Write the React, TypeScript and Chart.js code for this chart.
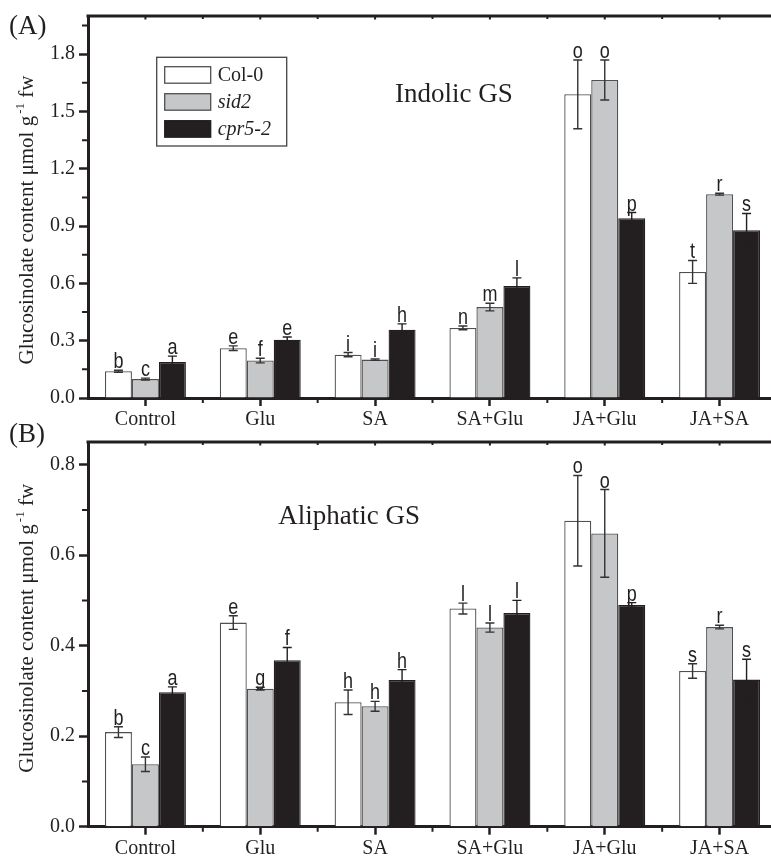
import { useEffect, useRef } from 'react';
import { Chart, registerables } from 'chart.js';

Chart.register(...registerables);

// ---------------- data ----------------
const categories = ['Control', 'Glu', 'SA', 'SA+Glu', 'JA+Glu', 'JA+SA'];
const seriesNames = ['Col-0', 'sid2', 'cpr5-2'];

// Panel A: Indolic GS
const indolicCol0 = [0.140, 0.261, 0.227, 0.367, 1.590, 0.660];
const indolicCol0Err = [0.005, 0.012, 0.011, 0.010, 0.180, 0.060];
const indolicSid2 = [0.099, 0.196, 0.201, 0.476, 1.665, 1.067];
const indolicSid2Err = [0.005, 0.012, 0.004, 0.020, 0.105, 0.005];
const indolicCpr5 = [0.189, 0.305, 0.357, 0.586, 0.941, 0.878];
const indolicCpr5Err = [0.030, 0.014, 0.031, 0.043, 0.030, 0.088];
const indolicCol0Letters = ['b', 'e', 'i', 'n', 'o', 't'];
const indolicSid2Letters = ['c', 'f', 'i', 'm', 'o', 'r'];
const indolicCpr5Letters = ['a', 'e', 'h', 'l', 'p', 's'];
const indolicTicks = [0, 0.3, 0.6, 0.9, 1.2, 1.5, 1.8];

// Panel B: Aliphatic GS
const aliphaticCol0 = [0.209, 0.451, 0.275, 0.482, 0.676, 0.344];
const aliphaticCol0Err = [0.012, 0.015, 0.027, 0.012, 0.100, 0.016];
const aliphaticSid2 = [0.138, 0.305, 0.266, 0.440, 0.648, 0.441];
const aliphaticSid2Err = [0.016, 0.003, 0.011, 0.010, 0.097, 0.004];
const aliphaticCpr5 = [0.297, 0.368, 0.324, 0.472, 0.490, 0.325];
const aliphaticCpr5Err = [0.012, 0.028, 0.023, 0.028, 0.005, 0.045];
const aliphaticCol0Letters = ['b', 'e', 'h', 'l', 'o', 's'];
const aliphaticSid2Letters = ['c', 'g', 'h', 'l', 'o', 'r'];
const aliphaticCpr5Letters = ['a', 'f', 'h', 'l', 'p', 's'];
const aliphaticTicks = [0, 0.2, 0.4, 0.6, 0.8];

// ---------------- styles ----------------
const SERIF = '"Liberation Serif", "Times New Roman", Times, serif';
const SANS = '"Liberation Sans", Arial, Helvetica, sans-serif';
const INK = '#231f20';
const seriesFill = ['#ffffff', '#c6c7c9', '#231f20'];
const seriesBorder = ['#505050', '#505050', '#231f20'];
const errColor = ['#333333', '#333333', '#231f20'];
const Y_TITLE_MAIN = 'Glucosinolate content \u03bcmol g';
const Y_TITLE_SUP = '-1';
const Y_TITLE_TAIL = ' fw';

const decorPlugin = {
  id: 'decor',
  afterDatasetsDraw(chart: any, _args: any, opts: any) {
    const ctx = chart.ctx;
    const ys = chart.scales.y;
    ctx.save();
    chart.data.datasets.forEach((ds: any, i: number) => {
      const meta = chart.getDatasetMeta(i);
      meta.data.forEach((bar: any, j: number) => {
        const v = ds.data[j];
        const e = opts.errors[i][j];
        const x = bar.x;
        const yt = ys.getPixelForValue(v + e);
        const yb = ys.getPixelForValue(Math.max(0, v - e));
        ctx.strokeStyle = errColor[i];
        ctx.lineWidth = 1.4;
        ctx.beginPath();
        ctx.moveTo(x, yt);
        ctx.lineTo(x, yb);
        ctx.moveTo(x - 4.5, yt);
        ctx.lineTo(x + 4.5, yt);
        ctx.moveTo(x - 4.5, yb);
        ctx.lineTo(x + 4.5, yb);
        ctx.stroke();
        // letter
        ctx.save();
        ctx.fillStyle = INK;
        ctx.font = `18px ${SANS}`;
        ctx.textAlign = 'center';
        ctx.textBaseline = 'alphabetic';
        ctx.translate(x, yt - 2);
        ctx.scale(1, 1.2);
        ctx.fillText(opts.letters[i][j], 0, 0);
        ctx.restore();
      });
    });
    ctx.restore();
  },
  afterDraw(chart: any, _args: any, opts: any) {
    const ctx = chart.ctx;
    const { left, right, top, bottom } = chart.chartArea;
    const ys = chart.scales.y;
    const xs = chart.scales.x;
    ctx.save();
    ctx.strokeStyle = INK;
    // top frame
    ctx.lineWidth = 3;
    ctx.beginPath();
    ctx.moveTo(left - 1.5, top);
    ctx.lineTo(right + 1.5, top);
    ctx.moveTo(right, top);
    ctx.lineTo(right, bottom);
    ctx.stroke();
    // y minor ticks
    ctx.lineWidth = 2;
    ctx.beginPath();
    for (let k = 0; k < opts.yMinor.length; k++) {
      const y = ys.getPixelForValue(opts.yMinor[k]);
      ctx.moveTo(left - 6, y);
      ctx.lineTo(left, y);
    }
    ctx.stroke();
    // x minor ticks and top inward ticks
    ctx.lineWidth = 2;
    ctx.beginPath();
    const n = categories.length;
    for (let j = 0; j < n; j++) {
      const xc = xs.getPixelForValue(j);
      const xm = (xs.getPixelForValue(j) + xs.getPixelForValue(j + 1)) / 2;
      ctx.moveTo(xm, bottom);
      ctx.lineTo(xm, bottom + 5);
      ctx.moveTo(xc, top);
      ctx.lineTo(xc, top + 3.5);
      ctx.moveTo(xm, top);
      ctx.lineTo(xm, top + 3);
    }
    ctx.stroke();

    ctx.fillStyle = INK;
    // y axis title
    ctx.save();
    const cy = (top + bottom) / 2 + opts.yTitleOffset;
    ctx.translate(33, cy);
    ctx.rotate(-Math.PI / 2);
    ctx.textAlign = 'left';
    ctx.textBaseline = 'alphabetic';
    ctx.font = `21px ${SERIF}`;
    const w1 = ctx.measureText(Y_TITLE_MAIN).width;
    const w3 = ctx.measureText(Y_TITLE_TAIL).width;
    ctx.font = `13px ${SERIF}`;
    const w2 = ctx.measureText(Y_TITLE_SUP).width;
    const total = w1 + 2 + w2 + w3;
    let u = -total / 2;
    ctx.font = `21px ${SERIF}`;
    ctx.fillText(Y_TITLE_MAIN, u, 0);
    u += w1 + 2;
    ctx.font = `13px ${SERIF}`;
    ctx.fillText(Y_TITLE_SUP, u, -9);
    u += w2;
    ctx.font = `21px ${SERIF}`;
    ctx.fillText(Y_TITLE_TAIL, u, 0);
    ctx.restore();

    // inner title
    ctx.font = `27px ${SERIF}`;
    ctx.textAlign = 'left';
    ctx.textBaseline = 'alphabetic';
    ctx.fillText(opts.title.text, opts.title.x, opts.title.y);

    // panel label
    ctx.font = `27px ${SERIF}`;
    ctx.fillText(opts.panel.text, opts.panel.x, opts.panel.y);

    // legend
    if (opts.legend) {
      const L = opts.legend;
      ctx.lineWidth = 1.3;
      ctx.strokeStyle = '#444444';
      ctx.strokeRect(L.x, L.y, L.w, L.h);
      chart.data.datasets.forEach((ds: any, i: number) => {
        const sy = L.y + L.first + i * L.gap;
        ctx.fillStyle = seriesFill[i];
        ctx.fillRect(L.x + 8, sy, 46, 16.5);
        ctx.strokeStyle = seriesBorder[i];
        ctx.lineWidth = 1.3;
        ctx.strokeRect(L.x + 8, sy, 46, 16.5);
        ctx.fillStyle = INK;
        ctx.font = i === 0 ? `20px ${SERIF}` : `italic 20px ${SERIF}`;
        ctx.textBaseline = 'middle';
        ctx.fillText(ds.label, L.x + 61, sy + 9);
      });
    }
    ctx.restore();
  },
};

function buildConfig(p: any) {
  return {
    type: 'bar',
    data: {
      labels: categories,
      datasets: seriesNames.map((name, i) => ({
        label: name,
        data: p.values[i],
        backgroundColor: seriesFill[i],
        borderColor: seriesBorder[i],
        borderWidth: 1.3,
        borderSkipped: 'start',
        categoryPercentage: 0.705,
        barPercentage: 1,
      })),
    },
    options: {
      responsive: false,
      animation: false,
      devicePixelRatio: 1,
      layout: { padding: { left: 0, right: 23, top: p.padTop, bottom: 0 } },
      plugins: {
        legend: { display: false },
        tooltip: { enabled: false },
        decor: {
          errors: p.errors,
          letters: p.letters,
          yMinor: p.yMinor,
          yTitleOffset: p.yTitleOffset,
          title: p.title,
          panel: p.panel,
          legend: p.legend,
        },
      },
      scales: {
        x: {
          type: 'category',
          offset: true,
          z: 1,
          grid: {
            display: true,
            drawOnChartArea: false,
            offset: false,
            drawTicks: true,
            tickLength: 8,
            tickWidth: 2.5,
            tickColor: INK,
          },
          border: { display: true, width: 3, color: INK },
          ticks: {
            font: { family: SERIF, size: 20 },
            color: INK,
            padding: 2,
            maxRotation: 0,
            autoSkip: false,
          },
          afterFit: (s: any) => {
            s.height = p.xHeight;
          },
        },
        y: {
          type: 'linear',
          min: 0,
          max: p.yMax,
          z: 1,
          afterBuildTicks: (s: any) => {
            s.ticks = p.yTicks.map((v: number) => ({ value: v }));
          },
          ticks: {
            font: { family: SERIF, size: 20 },
            color: INK,
            padding: 4,
            callback: (v: any) => Number(v).toFixed(1),
          },
          grid: {
            display: true,
            drawOnChartArea: false,
            drawTicks: true,
            tickLength: 9,
            tickWidth: 2.5,
            tickColor: INK,
          },
          border: { display: true, width: 3, color: INK },
          afterFit: (s: any) => {
            s.width = 88;
          },
        },
      },
    },
    plugins: [decorPlugin],
  } as any;
}

export default function App() {
  const refA = useRef<HTMLCanvasElement>(null);
  const refB = useRef<HTMLCanvasElement>(null);

  useEffect(() => {
    const chartA = new Chart(
      refA.current as HTMLCanvasElement,
      buildConfig({
        values: [indolicCol0, indolicSid2, indolicCpr5],
        errors: [indolicCol0Err, indolicSid2Err, indolicCpr5Err],
        letters: [indolicCol0Letters, indolicSid2Letters, indolicCpr5Letters],
        yMax: 2.0,
        yTicks: indolicTicks,
        yMinor: [0.15, 0.45, 0.75, 1.05, 1.35, 1.65, 1.95],
        padTop: 14,
        xHeight: 32,
        yTitleOffset: 13,
        title: { text: 'Indolic GS', x: 395, y: 101.5 },
        panel: { text: '(A)', x: 9, y: 34 },
        legend: { x: 156.7, y: 57.3, w: 130, h: 88.7, first: 9.4, gap: 27 },
      })
    );
    const chartB = new Chart(
      refB.current as HTMLCanvasElement,
      buildConfig({
        values: [aliphaticCol0, aliphaticSid2, aliphaticCpr5],
        errors: [aliphaticCol0Err, aliphaticSid2Err, aliphaticCpr5Err],
        letters: [aliphaticCol0Letters, aliphaticSid2Letters, aliphaticCpr5Letters],
        yMax: 0.85,
        yTicks: aliphaticTicks,
        yMinor: [0.1, 0.3, 0.5, 0.7],
        padTop: 27,
        xHeight: 31.3,
        yTitleOffset: -6,
        title: { text: 'Aliphatic GS', x: 278.3, y: 108.8 },
        panel: { text: '(B)', x: 9, y: 27 },
        legend: null,
      })
    );
    return () => {
      chartA.destroy();
      chartB.destroy();
    };
  }, []);

  return (
    <div
      style={{
        position: 'absolute',
        left: 0,
        top: 0,
        width: 771,
        height: 858,
        overflow: 'hidden',
        background: '#ffffff',
      }}
    >
      <canvas
        ref={refA}
        width={800}
        height={430}
        style={{ position: 'absolute', left: 0, top: 0, width: 800, height: 430 }}
      />
      <canvas
        ref={refB}
        width={800}
        height={443}
        style={{ position: 'absolute', left: 0, top: 415, width: 800, height: 443 }}
      />
    </div>
  );
}
